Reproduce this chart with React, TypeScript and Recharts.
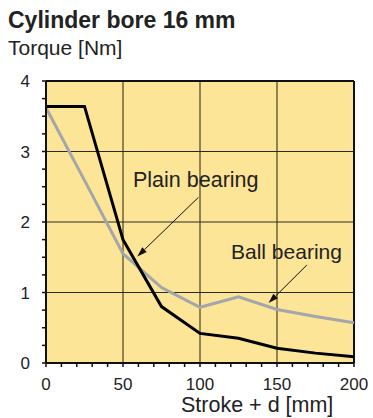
import React from 'react';
import { LineChart, Line, XAxis, YAxis, CartesianGrid, ReferenceLine } from 'recharts';

const strokeValues = [0, 25, 50, 75, 100, 125, 150, 175, 200];
const plainBearing = [3.64, 3.64, 1.75, 0.8, 0.42, 0.35, 0.21, 0.14, 0.09];
const ballBearing = [3.62, 2.59, 1.55, 1.07, 0.79, 0.94, 0.76, 0.66, 0.57];

const xTicks = [0, 10, 20, 30, 40, 50, 60, 70, 80, 90, 100, 110, 120, 130, 140, 150, 160, 170, 180, 190, 200];
const yTicks = [0, 0.25, 0.5, 0.75, 1, 1.25, 1.5, 1.75, 2, 2.25, 2.5, 2.75, 3, 3.25, 3.5, 3.75, 4];
const xMajor = [50, 100, 150];
const yMajor = [1, 2, 3];

const chartData = strokeValues.map((x, i) => ({ x, plain: plainBearing[i], ball: ballBearing[i] }));

const FONT = '"Liberation Sans", Arial, Helvetica, sans-serif';
const TEXT = '#222';

function XTick({ x, y, payload }: any) {
  if (payload.value % 50 !== 0) return <g />;
  return (
    <text x={x} y={y} dy="0.71em" textAnchor="middle" fontSize={17} fill={TEXT} fontFamily={FONT}>
      {payload.value}
    </text>
  );
}

function YTick({ x, y, payload }: any) {
  if (!Number.isInteger(payload.value)) return <g />;
  return (
    <text x={x} y={y} dy="0.36em" textAnchor="end" fontSize={17} fill={TEXT} fontFamily={FONT}>
      {payload.value}
    </text>
  );
}

// thin annotation arrow with a filled head at the end point
function Arrow(props: any) {
  const { x1, y1, x2, y2 } = props;
  const a = Math.atan2(y2 - y1, x2 - x1);
  const len = 10;
  const w = 3.2;
  const bx = x2 - len * Math.cos(a);
  const by = y2 - len * Math.sin(a);
  const p1 = `${bx + w * Math.sin(a)},${by - w * Math.cos(a)}`;
  const p2 = `${bx - w * Math.sin(a)},${by + w * Math.cos(a)}`;
  return (
    <g>
      <line x1={x1} y1={y1} x2={bx} y2={by} stroke="#111" strokeWidth={1} />
      <polygon points={`${x2},${y2} ${p1} ${p2}`} fill="#111" />
    </g>
  );
}

export default function App() {
  return (
    <div style={{ position: 'absolute', left: 0, top: 0, width: 373, height: 418, background: '#fff', fontFamily: FONT }}>
      <div style={{ position: 'absolute', left: 8, top: 9, fontSize: 23, lineHeight: 1, fontWeight: 700, color: '#222', whiteSpace: 'nowrap' }}>
        Cylinder bore 16 mm
      </div>
      <div style={{ position: 'absolute', left: 8, top: 37, fontSize: 21, lineHeight: 1, color: TEXT, whiteSpace: 'nowrap' }}>
        Torque [Nm]
      </div>

      <LineChart width={373} height={418} data={chartData} margin={{ top: 81, right: 19, bottom: 20, left: 0 }}>
        <CartesianGrid fill="#FDE597" fillOpacity={1} horizontal={false} vertical={false} />
        {xMajor.map(v => (
          <ReferenceLine key={'vx' + v} x={v} stroke="#6e6038" strokeWidth={1.5} />
        ))}
        {yMajor.map(v => (
          <ReferenceLine key={'hy' + v} y={v} stroke="#2a2a2a" strokeWidth={1.2} />
        ))}
        <ReferenceLine y={4} stroke="#111" strokeWidth={2} />
        <ReferenceLine x={200} stroke="#111" strokeWidth={2} />
        <XAxis
          dataKey="x"
          type="number"
          domain={[0, 200]}
          ticks={xTicks}
          interval={0}
          height={35}
          axisLine={{ stroke: '#111', strokeWidth: 2 }}
          tickLine={{ stroke: '#111', strokeWidth: 1.5 }}
          tickSize={4}
          tickMargin={11}
          tick={<XTick />}
        />
        <YAxis
          type="number"
          domain={[0, 4]}
          ticks={yTicks}
          interval={0}
          width={46}
          axisLine={{ stroke: '#111', strokeWidth: 2 }}
          tickLine={{ stroke: '#111', strokeWidth: 1.5 }}
          tickSize={4}
          tickMargin={12}
          tick={<YTick />}
        />
        <Line type="linear" dataKey="ball" stroke="#A3A6AA" strokeWidth={3} dot={false} isAnimationActive={false} />
        <Line type="linear" dataKey="plain" stroke="#000" strokeWidth={3} dot={false} isAnimationActive={false} />
        <ReferenceLine segment={[{ x: 99, y: 2.35 }, { x: 59.3, y: 1.51 }]} shape={<Arrow />} />
        <ReferenceLine segment={[{ x: 169.4, y: 1.39 }, { x: 144.5, y: 0.85 }]} shape={<Arrow />} />
      </LineChart>

      <div style={{ position: 'absolute', left: 133, top: 170, fontSize: 21.5, lineHeight: 1, color: TEXT, whiteSpace: 'nowrap' }}>
        Plain bearing
      </div>
      <div style={{ position: 'absolute', left: 231, top: 241, fontSize: 21, lineHeight: 1, color: TEXT, whiteSpace: 'nowrap' }}>
        Ball bearing
      </div>
      <div style={{ position: 'absolute', left: 181, top: 395, fontSize: 21.5, lineHeight: 1, color: TEXT, whiteSpace: 'nowrap' }}>
        Stroke + d [mm]
      </div>
    </div>
  );
}
